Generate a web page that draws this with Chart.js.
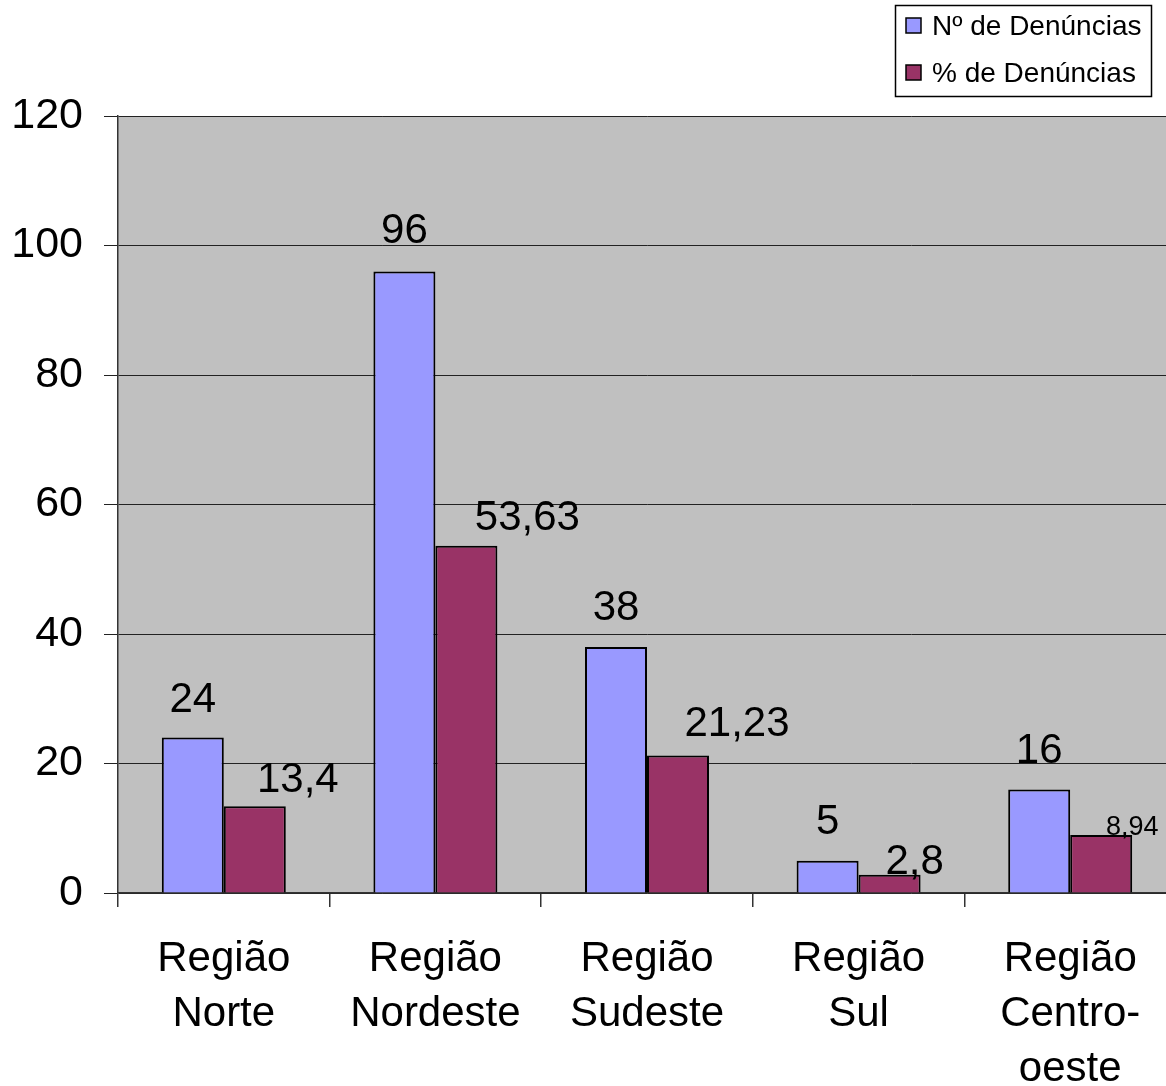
<!DOCTYPE html>
<html>
<head>
<meta charset="utf-8">
<script src="https://cdn.jsdelivr.net/npm/chart.js@4.4.1/dist/chart.umd.min.js"></script>
<style>
  html, body { margin: 0; padding: 0; background: #fff; overflow: hidden; }
  #clip { width: 1166px; height: 1086px; overflow: hidden; position: relative; }
  #wrap { width: 1177px; height: 1086px; position: absolute; left: 0; top: 0; }
</style>
</head>
<body>
<div id="clip"><div id="wrap"><canvas id="c"></canvas></div></div>
<script>
// ---- data ----
const categories = [
  ["Região", "Norte"],
  ["Região", "Nordeste"],
  ["Região", "Sudeste"],
  ["Região", "Sul"],
  ["Região", "Centro-", "oeste"]
];
const seriesNames = ["Nº de Denúncias", "% de Denúncias"];
const numDenuncias = [24, 96, 38, 5, 16];
const pctDenuncias = [13.4, 53.63, 21.23, 2.8, 8.94];
const yMin = 0, yMax = 120, yStep = 20;

const FONT = "'Liberation Sans', Arial, Helvetica, sans-serif";

const plotBg = {
  id: 'plotBg',
  beforeDraw(chart) {
    const {ctx, chartArea: a} = chart;
    ctx.save();
    ctx.fillStyle = '#C0C0C0';
    ctx.fillRect(a.left, a.top, a.right - a.left, a.bottom - a.top);
    ctx.restore();
  }
};

const valueLabels = {
  id: 'valueLabels',
  afterDatasetsDraw(chart, args, opts) {
    const ctx = chart.ctx;
    ctx.save();
    ctx.fillStyle = '#000';
    ctx.textAlign = 'center';
    ctx.textBaseline = 'alphabetic';
    chart.data.datasets.forEach((ds, di) => {
      const meta = chart.getDatasetMeta(di);
      const o = opts.offsets[di];
      meta.data.forEach((bar, i) => {
        const size = o.size[i];
        ctx.font = size + 'px ' + FONT;
        const txt = String(ds.data[i]).replace('.', ',');
        const cy = bar.y - o.dy[i];
        ctx.fillText(txt, bar.x + o.dx[i], cy + 0.358 * size);
      });
    });
    ctx.restore();
  }
};

const boxLegend = {
  id: 'boxLegend',
  afterDraw(chart) {
    const ctx = chart.ctx;
    ctx.save();
    ctx.fillStyle = '#fff';
    ctx.fillRect(895, 5, 257, 92);
    ctx.strokeStyle = '#000';
    ctx.lineWidth = 1.5;
    ctx.strokeRect(895.5, 5.5, 256, 91);
    const rows = [25, 72];
    ctx.font = '28px ' + FONT;
    ctx.textAlign = 'left';
    ctx.textBaseline = 'alphabetic';
    chart.data.datasets.forEach((ds, i) => {
      const y = rows[i];
      ctx.fillStyle = ds.backgroundColor;
      ctx.fillRect(906, y - 7, 15, 15);
      ctx.strokeStyle = '#000';
      ctx.lineWidth = 1.5;
      ctx.strokeRect(906, y - 7, 15, 15);
      ctx.fillStyle = '#000';
      ctx.fillText(ds.label, 932, y + 10);
    });
    ctx.restore();
  }
};

new Chart(document.getElementById('c'), {
  type: 'bar',
  data: {
    labels: categories,
    datasets: [
      { label: seriesNames[0], data: numDenuncias, backgroundColor: '#9999FF',
        borderColor: '#000', borderWidth: 2 },
      { label: seriesNames[1], data: pctDenuncias, backgroundColor: '#993366',
        borderColor: '#000', borderWidth: 2 }
    ]
  },
  options: {
    responsive: true,
    maintainAspectRatio: false,
    animation: false,
    devicePixelRatio: 1,
    layout: { padding: { top: 116, right: 1, left: 0, bottom: 0 } },
    datasets: { bar: { categoryPercentage: 0.586, barPercentage: 1.0 } },
    plugins: {
      legend: { display: false },
      tooltip: { enabled: false },
      valueLabels: {
        offsets: [
          { dx: [0, 0, 0, 0, 0], dy: [41, 43, 42, 42, 41], size: [42, 42, 42, 42, 42] },
          { dx: [43, 61, 59, 25, 31], dy: [29, 31, 35, 16, 10], size: [42, 42, 42, 42, 27] }
        ]
      }
    },
    scales: {
      x: {
        offset: true,
        grid: { display: true, drawOnChartArea: false, drawTicks: true, tickLength: 14,
                color: '#333', lineWidth: 1.5, offset: true },
        border: { display: true, color: '#333', width: 1.5 },
        ticks: { color: '#000', font: { family: FONT, size: 42, lineHeight: 1.31 },
                 padding: 25, maxRotation: 0, autoSkip: false },
        afterFit(scale) { scale.height = 193; }
      },
      y: {
        min: yMin, max: yMax,
        ticks: { stepSize: yStep, color: '#000', font: { family: FONT, size: 43 }, padding: 21 },
        grid: { color: '#222', lineWidth: 1, tickLength: 14, drawTicks: true },
        border: { display: true, color: '#333', width: 1.5 },
        afterFit(scale) { scale.width = 118; }
      }
    }
  },
  plugins: [plotBg, valueLabels, boxLegend]
});
</script>
</body>
</html>
